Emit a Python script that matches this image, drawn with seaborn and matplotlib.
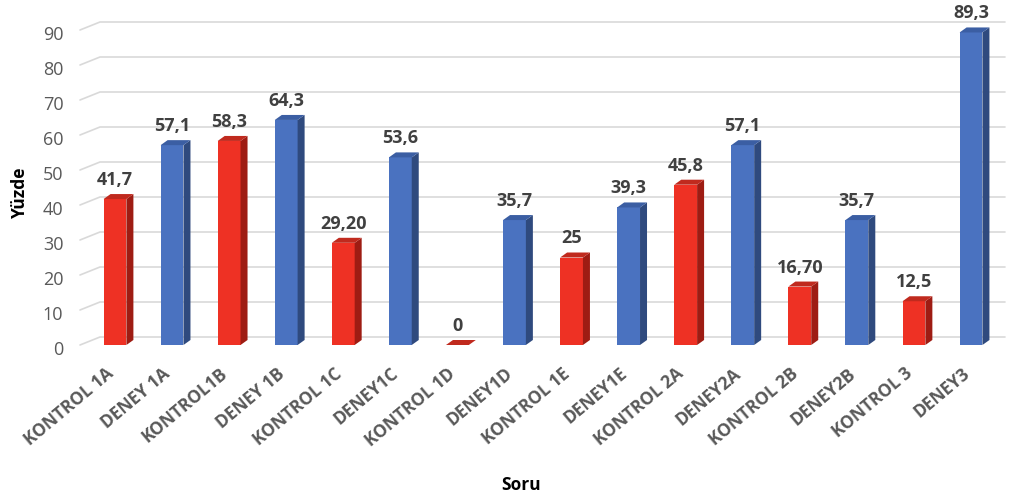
import matplotlib
matplotlib.use("Agg")
import matplotlib.pyplot as plt
from matplotlib.patches import Polygon
from matplotlib.colors import to_hex
from matplotlib.transforms import ScaledTranslation
import seaborn as sns
import pandas as pd

# Question labels, group membership and percentages
categories = ["KONTROL 1A", "DENEY 1A", "KONTROL1B", "DENEY 1B", "KONTROL 1C", "DENEY1C",
              "KONTROL 1D", "DENEY1D", "KONTROL 1E", "DENEY1E", "KONTROL 2A", "DENEY2A",
              "KONTROL 2B", "DENEY2B", "KONTROL 3", "DENEY3"]
groups = ["Kontrol", "Deney"] * 8
values = [41.7, 57.1, 58.3, 64.3, 29.2, 53.6, 0, 35.7, 25, 39.3, 45.8, 57.1, 16.7, 35.7, 12.5, 89.3]
value_labels = ["41,7", "57,1", "58,3", "64,3", "29,20", "53,6", "0", "35,7",
                "25", "39,3", "45,8", "57,1", "16,70", "35,7", "12,5", "89,3"]
y_ticks = [0, 10, 20, 30, 40, 50, 60, 70, 80, 90]

sns.set_theme(style="white")
plt.rcParams["font.family"] = ["Open Sans", "DejaVu Sans"]

W, H = 1010, 499
fig = plt.figure(figsize=(W / 100, H / 100), dpi=100)
ax_left, ax_bottom, ax_w, ax_h = 80, 154, 905, 315
ax = fig.add_axes([ax_left / W, ax_bottom / H, ax_w / W, ax_h / H])

df = pd.DataFrame({"Soru": categories, "Yüzde": values, "Grup": groups})
front = {"Kontrol": "#EE3124", "Deney": "#4A72C0"}
shade = {to_hex(front["Kontrol"]): ("#9E1C13", "#C02A1E"),
         to_hex(front["Deney"]): ("#2F4A7E", "#3B5EA3")}

sns.barplot(data=df, x="Soru", y="Yüzde", hue="Grup", palette=front, dodge=False,
            width=0.4, saturation=1, linewidth=0, legend=False, ax=ax, zorder=3)

xlim = (-0.613, 15.245)
ax.set_xlim(*xlim)
ax.set_ylim(0, 90)
px_x = ax_w / (xlim[1] - xlim[0])
px_y = ax_h / 90.0

# back-wall gridlines with a short receding segment at the left
gdx, gdy = 20 / px_x, 8 / px_y
for v in y_ticks:
    ax.plot([xlim[0], xlim[0] + gdx, xlim[1] + gdx], [v, v + gdy, v + gdy],
            color="#D9D9D9", lw=1.2, clip_on=False, zorder=0)

# depth faces for each column
dx, dy = 7 / px_x, 5 / px_y
bars = [p for p in ax.patches if p.get_height() == p.get_height()]
for p in bars:
    x0, w, h = p.get_x(), p.get_width(), p.get_height()
    side_c, top_c = shade.get(to_hex(p.get_facecolor()), ("#555555", "#777777"))
    side = Polygon([(x0 + w, 0), (x0 + w + dx, dy), (x0 + w + dx, h + dy), (x0 + w, h)],
                   closed=True, facecolor=side_c, edgecolor="none", clip_on=False, zorder=3)
    top = Polygon([(x0, h), (x0 + dx, h + dy), (x0 + w + dx, h + dy), (x0 + w, h)],
                  closed=True, facecolor=top_c, edgecolor="none", clip_on=False, zorder=3)
    ax.add_patch(side)
    ax.add_patch(top)

# value labels above the columns
for i, (v, lab) in enumerate(zip(values, value_labels)):
    ax.annotate(lab, (i, v + dy), xytext=(0, 6.5), textcoords="offset points",
                ha="center", va="baseline", fontsize=13, fontweight="bold",
                color="#404040", zorder=5, annotation_clip=False)

for s in ax.spines.values():
    s.set_visible(False)
ax.set_xlabel("")
ax.set_ylabel("")
ax.set_yticks(y_ticks)
ax.set_yticklabels([str(t) for t in y_ticks], fontsize=13, color="#595959")
ax.tick_params(axis="y", length=0, pad=12)
ax.set_xticks(range(len(categories)))
ax.set_xticklabels(categories, rotation=40, ha="right", va="center",
                   rotation_mode="anchor", fontsize=12.5, fontweight="bold", color="#595959")
ax.tick_params(axis="x", length=0, pad=19)
ax.grid(False)

shift_y = ScaledTranslation(0, -0.03, fig.dpi_scale_trans)
for lab in ax.get_yticklabels():
    lab.set_transform(lab.get_transform() + shift_y)
shift_x = ScaledTranslation(-0.04, 0, fig.dpi_scale_trans)
for lab in ax.get_xticklabels():
    lab.set_transform(lab.get_transform() + shift_x)

fig.text(20 / W, 1 - 192 / H, "Yüzde", rotation=90, ha="center", va="center",
         fontsize=12.5, fontweight="bold", color="black")
fig.text(521 / W, 1 - 485 / H, "Soru", ha="center", va="center",
         fontsize=12.5, fontweight="bold", color="black")

fig.savefig("out.png", dpi=100)
